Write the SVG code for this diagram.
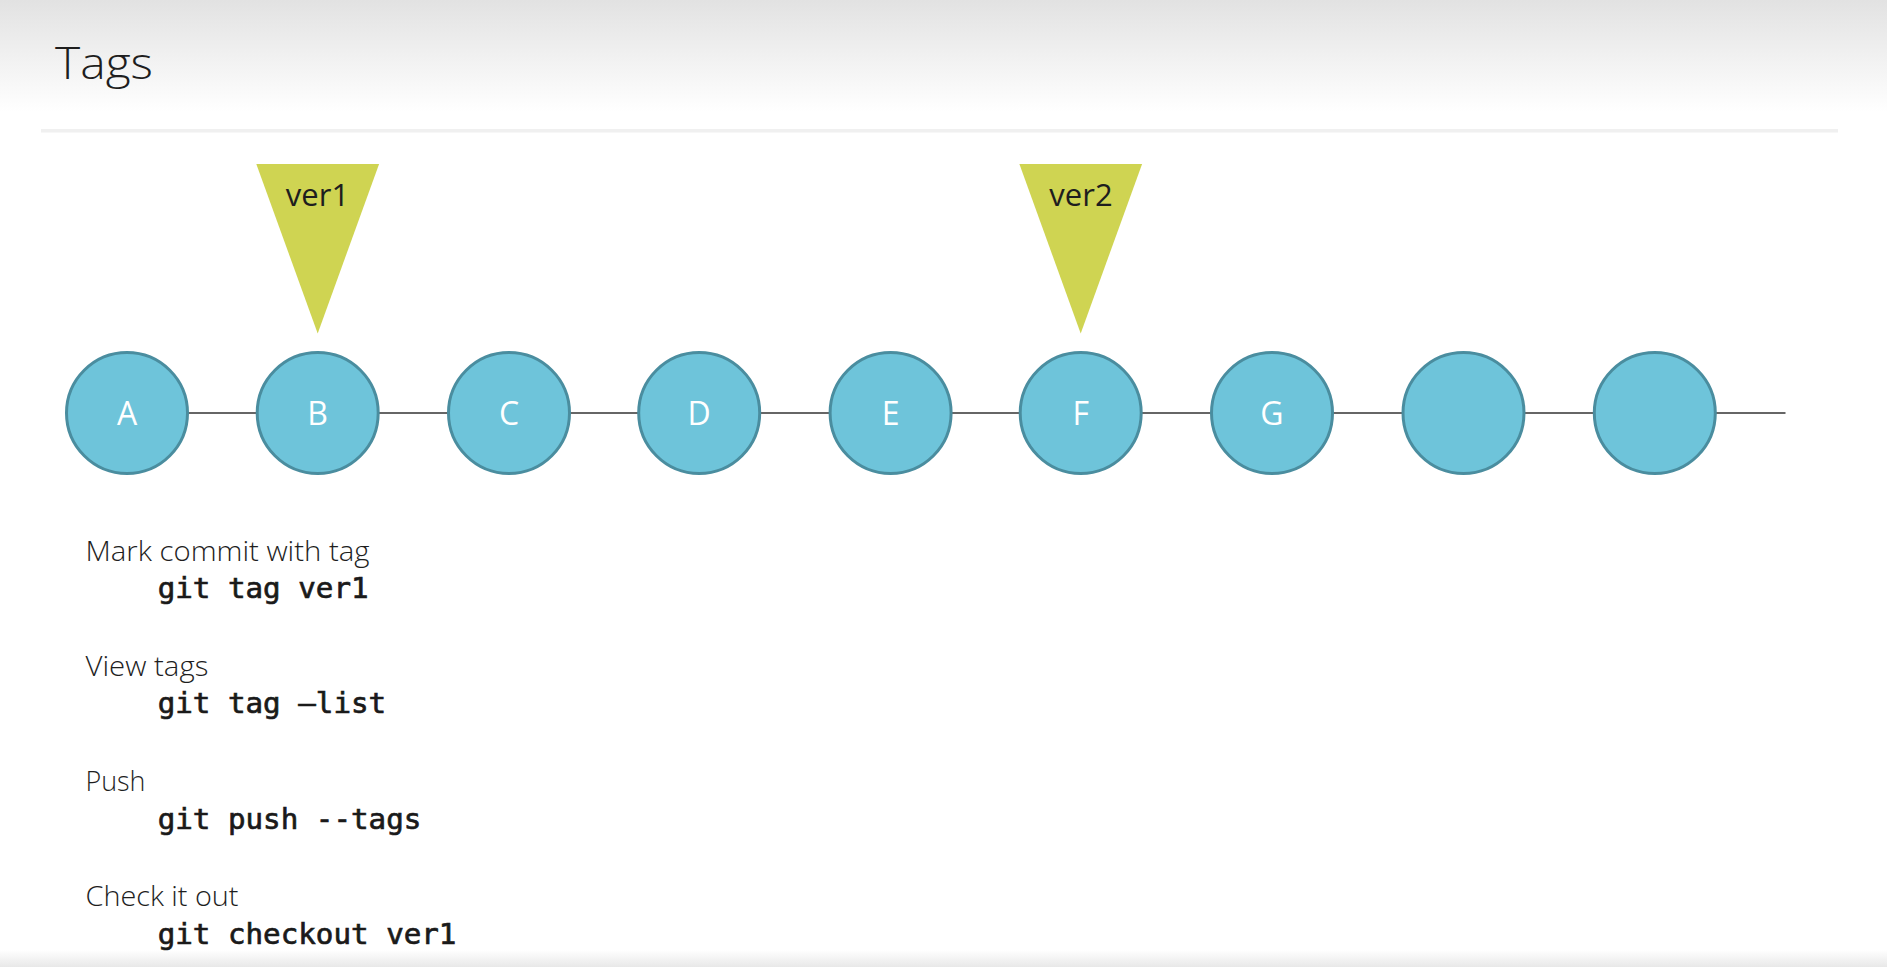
<svg xmlns="http://www.w3.org/2000/svg" width="1887" height="967" viewBox="0 0 1887 967">
<defs>
<linearGradient id="hdr" x1="0" y1="0" x2="0" y2="1"><stop offset="0" stop-color="#e2e2e2"/><stop offset="1" stop-color="#ffffff"/></linearGradient>
<linearGradient id="ftr" x1="0" y1="0" x2="0" y2="1"><stop offset="0" stop-color="#ffffff"/><stop offset="1" stop-color="#e8e8e8"/></linearGradient>
<style>
.commit circle{fill:#6ec4da;stroke:#4a8d9f;stroke-width:3}
.commit text{fill:#ffffff;font-family:"Open Sans","Noto Sans",sans-serif;font-size:32px;text-anchor:middle}
.tag polygon{fill:#cfd452}
.tag text{fill:#1e1e1e;font-family:"Open Sans","Noto Sans",sans-serif;font-size:31px;text-anchor:middle}
.conn line{stroke:#333333;stroke-width:1.3}
.body{fill:#1e1e1e;font-family:"Open Sans","Noto Sans",sans-serif;font-weight:300;font-size:28px}
.title{fill:#1e1e1e;font-family:"Open Sans","Noto Sans",sans-serif;font-weight:300;font-size:45px}
.cmd{fill:#1a1a1a;stroke:#1a1a1a;stroke-width:0.7;font-family:"DejaVu Sans Mono","Liberation Mono",monospace;font-size:29.2px}
</style>
</defs>
<rect width="1887" height="967" fill="#ffffff"/>
<rect x="0" y="0" width="1887" height="112" fill="url(#hdr)"/>
<rect x="0" y="950" width="1887" height="17" fill="url(#ftr)"/>
<text x="55" y="79" class="title" textLength="98" lengthAdjust="spacingAndGlyphs">Tags</text>
<rect x="41" y="129" width="1797" height="3.5" fill="#f0f0f0"/>

<g id="connectors" class="conn">
<line x1="187.5" y1="413" x2="257.2" y2="413"/>
<line x1="378.2" y1="413" x2="448.5" y2="413"/>
<line x1="569.5" y1="413" x2="638.7" y2="413"/>
<line x1="759.7" y1="413" x2="830.1" y2="413"/>
<line x1="951.1" y1="413" x2="1020.2" y2="413"/>
<line x1="1141.2" y1="413" x2="1211.5" y2="413"/>
<line x1="1332.5" y1="413" x2="1403" y2="413"/>
<line x1="1524" y1="413" x2="1594.3" y2="413"/>
<line x1="1715.3" y1="413" x2="1785.5" y2="413"/>
</g>

<g id="nodeA" class="commit"><circle cx="127" cy="413" r="60.5"/><text x="127" y="425">A</text></g>
<g id="nodeB" class="commit"><circle cx="317.7" cy="413" r="60.5"/><text x="317.7" y="425">B</text></g>
<g id="nodeC" class="commit"><circle cx="509" cy="413" r="60.5"/><text x="509" y="425">C</text></g>
<g id="nodeD" class="commit"><circle cx="699.2" cy="413" r="60.5"/><text x="699.2" y="425">D</text></g>
<g id="nodeE" class="commit"><circle cx="890.6" cy="413" r="60.5"/><text x="890.6" y="425">E</text></g>
<g id="nodeF" class="commit"><circle cx="1080.7" cy="413" r="60.5"/><text x="1080.7" y="425">F</text></g>
<g id="nodeG" class="commit"><circle cx="1272" cy="413" r="60.5"/><text x="1272" y="425">G</text></g>
<g id="nodeH" class="commit"><circle cx="1463.5" cy="413" r="60.5"/></g>
<g id="nodeI" class="commit"><circle cx="1654.8" cy="413" r="60.5"/></g>

<g id="tagVer1" class="tag"><polygon points="256.3,164 379.1,164 317.7,333.4"/><text x="317.5" y="206">ver1</text></g>
<g id="tagVer2" class="tag"><polygon points="1019.4,164 1142.1,164 1080.7,333.4"/><text x="1081" y="206">ver2</text></g>

<g id="notes">
<text x="85.5" y="560.5" class="body" textLength="284" lengthAdjust="spacingAndGlyphs">Mark commit with tag</text>
<text x="157.7" y="598" class="cmd">git tag ver1</text>
<text x="85.5" y="675.8" class="body" textLength="122.8" lengthAdjust="spacingAndGlyphs">View tags</text>
<text x="157.7" y="713" class="cmd">git tag –list</text>
<text x="85.5" y="791" class="body" textLength="60" lengthAdjust="spacingAndGlyphs">Push</text>
<text x="157.7" y="829" class="cmd">git push --tags</text>
<text x="85.5" y="906.3" class="body" textLength="153" lengthAdjust="spacingAndGlyphs">Check it out</text>
<text x="157.7" y="943.5" class="cmd">git checkout ver1</text>
</g>
</svg>
